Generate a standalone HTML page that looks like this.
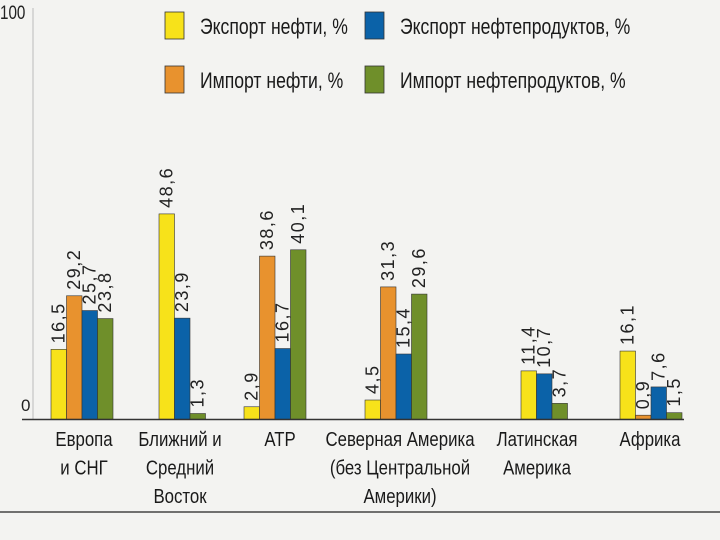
<!DOCTYPE html>
<html><head><meta charset="utf-8"><style>
html,body{margin:0;padding:0;background:#f3f3f1;}
svg{display:block;font-family:"Liberation Sans","DejaVu Sans",sans-serif;}
</style></head><body>
<svg id="chart" width="720" height="540" viewBox="0 0 720 540">
<rect x="0" y="0" width="720" height="540" fill="#f3f3f1"/>
<line x1="33" y1="8" x2="33" y2="419" stroke="#bbb" stroke-width="1"/>
<g transform="translate(0,19) scale(0.8,1)"><text x="0" y="0" font-size="19" fill="#222">100</text></g>
<text x="21" y="411" font-size="17" fill="#222">0</text>
<line x1="22" y1="419.5" x2="684" y2="419.5" stroke="#333" stroke-width="1.5"/>
<line x1="0" y1="512" x2="720" y2="512" stroke="#444" stroke-width="1.5"/>
<g id="legend"></g>
<g id="bars"></g>
<g id="cats"></g>
</svg>
<script>
const categories = [["Европа","и СНГ"],["Ближний и","Средний","Восток"],["АТР"],["Северная Америка","(без Центральной","Америки)"],["Латинская","Америка"],["Африка"]];
const seriesNames = ["Экспорт нефти, %","Импорт нефти, %","Экспорт нефтепродуктов, %","Импорт нефтепродуктов, %"];
const exportOil = [16.5, 48.6, 2.9, 4.5, 11.4, 16.1];
const importOil = [29.2, null, 38.6, 31.3, null, 0.9];
const exportProd = [25.7, 23.9, 16.7, 15.4, 10.7, 7.6];
const importProd = [23.8, 1.3, 40.1, 29.6, 3.7, 1.5];
const valueLabels = [["16,5","29,2","25,7","23,8"],["48,6",null,"23,9","1,3"],["2,9","38,6","16,7","40,1"],["4,5","31,3","15,4","29,6"],["11,4",null,"10,7","3,7"],["16,1","0,9","7,6","1,5"]];

const colors = ["#f7e21a","#e8922e","#0b62a8","#6f8f2a"];
const groupX = [51,159,244,365,521,620];
const labelCX = [84,180,280,400,537,650];
const baseY = 419, pxPer = 4.22, barW = 15.5;
const y = v => baseY - v*pxPer;
const NS = "http://www.w3.org/2000/svg";
const mk = (tag, attrs) => { const e = document.createElementNS(NS, tag); for (const k in attrs) e.setAttribute(k, attrs[k]); return e; };
const series = [exportOil, importOil, exportProd, importProd];

const bars = document.getElementById('bars');
categories.forEach((c, i) => {
  let x = groupX[i];
  series.forEach((s, j) => {
    const v = s[i];
    if (v === null) return;
    const r = mk('rect', {x: x, y: y(v), width: barW, height: v*pxPer, fill: colors[j], stroke: "#333", "stroke-width": 0.6});
    
    
    bars.appendChild(r);
    const lx = x + barW/2 + 6, ly = y(v) - 6;
    const t = mk('text', {x: lx, y: ly, "font-size": 18, fill: "#222", transform: `rotate(-90 ${lx} ${ly})`, "letter-spacing": "1.5"});
    t.textContent = valueLabels[i][j];
    
    
    bars.appendChild(t);
    x += barW;
  });
});

const cats = document.getElementById('cats');
categories.forEach((lines, i) => {
  lines.forEach((ln, k) => {
    const g = mk('g', {transform: `translate(${labelCX[i]},${446 + k*28.5}) scale(0.84,1)`});
    const t = mk('text', {x: 0, y: 0, "font-size": 20, fill: "#1a1a1a", "text-anchor": "middle"});
    t.textContent = ln;
    
    
    g.appendChild(t);
    cats.appendChild(g);
  });
});

const legend = document.getElementById('legend');
const legPos = [[165,12],[165,66],[365,12],[365,66]];
seriesNames.forEach((n, j) => {
  const [lx, ly] = legPos[j];
  const r = mk('rect', {x: lx, y: ly, width: 19, height: 27, fill: colors[j], stroke: "#333", "stroke-width": 0.8});
  
  
  legend.appendChild(r);
  const g = mk('g', {transform: `translate(${lx+35},${ly+22}) scale(0.8,1)`});
  const t = mk('text', {x: 0, y: 0, "font-size": 22, fill: "#1a1a1a"});
  t.textContent = n;
  
  
  g.appendChild(t);
  legend.appendChild(g);
});
</script>
</body></html>
